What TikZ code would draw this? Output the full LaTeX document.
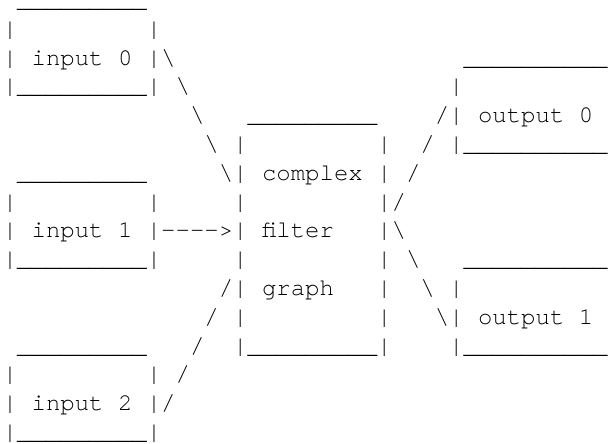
\documentclass[tikz,border=0pt]{standalone}
\usepackage{fontspec}
\setmonofont{TeX Gyre Cursor}
\newcommand\asciiU{\char"5F\relax}
\newcommand\asciiB{\char"5C\relax}
\newcommand\asciiH{-\kern0pt}
\newcommand\nineU{\asciiU\asciiU\asciiU\asciiU\asciiU\asciiU\asciiU\asciiU\asciiU}
\newcommand\tenU{\nineU\asciiU}
\tikzset{
  asc/.style={anchor=base west, inner sep=0pt, outer sep=0pt,
    font=\ttfamily\fontsize{18pt}{21.6pt}\selectfont, text=black}
}
% \seg{name}{column}{row}{text}
\newcommand\seg[4]{\node[asc] (#1) at ({2.1pt+#2*10.8pt},{-5.55pt-#3*21.6pt}) {#4};}
\begin{document}
\begin{tikzpicture}
\useasboundingbox (0,0) rectangle (457.5pt,-332.25pt);
% input 0 box
\seg{in0t}{1}{0}{\nineU}
\seg{in0la}{0}{1}{|}
\seg{in0ra}{10}{1}{|}
\seg{in0lb}{0}{2}{|}
\seg{in0}{2}{2}{input 0}
\seg{in0rb}{10}{2}{|\asciiB}
\seg{in0b}{0}{3}{|\nineU|}
% link input 0 -> filter
\seg{l0a}{12}{3}{\asciiB}
\seg{l0b}{13}{4}{\asciiB}
\seg{l0c}{14}{5}{\asciiB}
\seg{l0d}{15}{6}{\asciiB|}
% filter box
\seg{ft}{17}{4}{\nineU}
\seg{fla}{16}{5}{|}
\seg{fra}{26}{5}{|}
\seg{cx}{18}{6}{complex}
\seg{frb}{26}{6}{|}
\seg{flc}{16}{7}{|}
\seg{frc}{26}{7}{|/}
\seg{flt}{18}{8}{filter}
\seg{frd}{26}{8}{|\asciiB}
\seg{fle}{16}{9}{|}
\seg{fre}{26}{9}{|}
\seg{flf}{15}{10}{/|}
\seg{gr}{18}{10}{graph}
\seg{frf}{26}{10}{|}
\seg{flg}{16}{11}{|}
\seg{frg}{26}{11}{|}
\seg{fb}{16}{12}{|\nineU|}
% output 0 box
\seg{o0t}{32}{2}{\tenU}
\seg{o0la}{31}{3}{|}
\seg{o0lb}{30}{4}{/|}
\seg{o0}{33}{4}{output 0}
\seg{o0b}{31}{5}{|\tenU}
% link filter -> output 0
\seg{m0a}{29}{5}{/}
\seg{m0b}{28}{6}{/}
% link filter -> output 1
\seg{m1a}{28}{9}{\asciiB}
\seg{m1b}{29}{10}{\asciiB}
% output 1 box
\seg{o1t}{32}{9}{\tenU}
\seg{o1la}{31}{10}{|}
\seg{o1lb}{30}{11}{\asciiB|}
\seg{o1}{33}{11}{output 1}
\seg{o1b}{31}{12}{|\tenU}
% input 1 box
\seg{in1t}{1}{6}{\nineU}
\seg{in1la}{0}{7}{|}
\seg{in1ra}{10}{7}{|}
\seg{in1lb}{0}{8}{|}
\seg{in1}{2}{8}{input 1}
\seg{in1rb}{10}{8}{|\asciiH\asciiH\asciiH\asciiH>|}
\seg{in1b}{0}{9}{|\nineU|}
% link input 2 -> filter
\seg{l2a}{14}{11}{/}
\seg{l2b}{13}{12}{/}
\seg{l2c}{12}{13}{/}
% input 2 box
\seg{in2t}{1}{12}{\nineU}
\seg{in2la}{0}{13}{|}
\seg{in2ra}{10}{13}{|}
\seg{in2lb}{0}{14}{|}
\seg{in2}{2}{14}{input 2}
\seg{in2rb}{10}{14}{|/}
\seg{in2b}{0}{15}{|\nineU|}
\end{tikzpicture}
\end{document}
